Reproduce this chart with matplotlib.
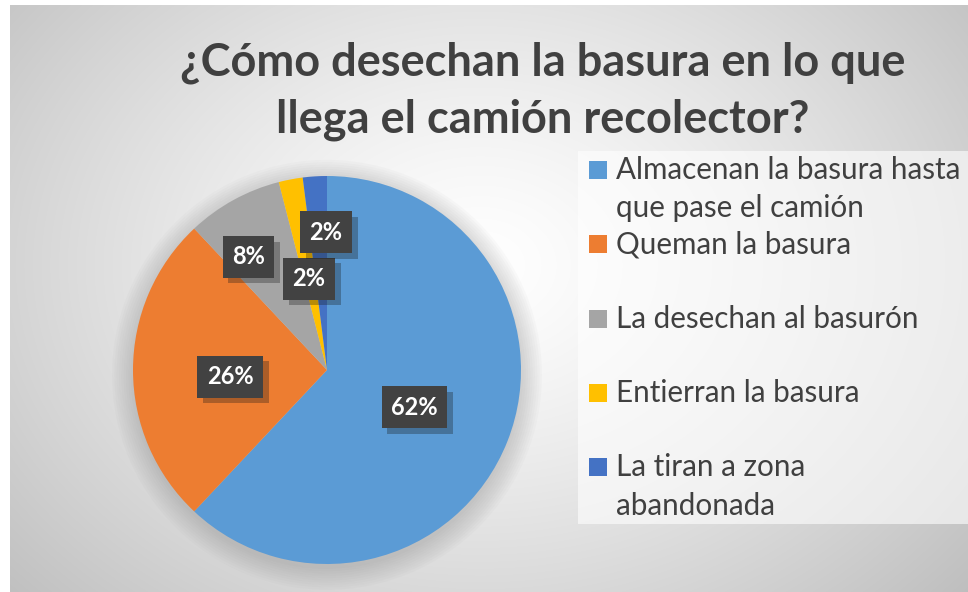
import numpy as np
import matplotlib.pyplot as plt
from matplotlib.patches import Rectangle, Circle
from matplotlib import patheffects as pe

# data
categorias = ['Almacenan la basura hasta\nque pase el camión',
              'Queman la basura',
              'La desechan al basurón',
              'Entierran la basura',
              'La tiran a zona\nabandonada']
porcentajes = [62, 26, 8, 2, 2]
colores = ['#5b9bd5', '#ed7d31', '#a5a5a5', '#ffc000', '#4472c4']
titulo = '¿Cómo desechan la basura en lo que\nllega el camión recolector?'

W, H = 968, 592
fig = plt.figure(figsize=(W / 100, H / 100), dpi=100)
fig.patch.set_facecolor('white')

# fondo con degradado radial
bg = fig.add_axes([10 / W, 0, (W - 10) / W, (H - 5) / H])
bg.set_axis_off()
yy, xx = np.mgrid[0:587, 0:958]
d = np.sqrt(((xx - 470) / 560.0) ** 2 + ((yy - 260) / 430.0) ** 2)
g = 1.0 - 0.21 * np.clip(d, 0, 1.2) ** 1.3
bg.imshow(np.dstack([g, g, g]), aspect='auto', extent=[0, 1, 0, 1])
bg.set_xlim(0, 1)
bg.set_ylim(0, 1)

# pastel
cx, cy, r = 327, 370, 194
ax = fig.add_axes([(cx - r * 1.2) / W, (H - cy - r * 1.2) / H, 2.4 * r / W, 2.4 * r / H])
ax.set_axis_off()

# sombra suave
for k in range(10):
    ax.add_patch(Circle((0.0, -0.025), 1.0 + 0.012 * k, color='#808080',
                        alpha=0.035, lw=0, zorder=0))

wedges, _ = ax.pie(porcentajes, colors=colores, startangle=90, counterclock=False,
                   radius=1.0, wedgeprops=dict(linewidth=0))
ax.set_xlim(-1.2, 1.2)
ax.set_ylim(-1.2, 1.2)
ax.set_aspect('equal')

radios = [0.49, 0.5, 0.71, 0.48, 0.71]
ajustes = [-1.5, 4, 6, 0.3, -3.2]
for w, p, rr, da in zip(wedges, porcentajes, radios, ajustes):
    ang = np.deg2rad((w.theta1 + w.theta2) / 2 + da)
    t = ax.text(rr * np.cos(ang), rr * np.sin(ang), f'{p}%', ha='center', va='center',
                color='white', fontsize=17, fontweight='bold', family='Lato', zorder=5,
                bbox=dict(boxstyle='square,pad=0.4', fc='#424242', ec='none'))
    t.get_bbox_patch().set_path_effects([pe.SimplePatchShadow(offset=(4, -4), alpha=0.3),
                                         pe.Normal()])

# título
fig.text(543 / W, 1 - 91 / H, titulo, ha='center', va='center', fontsize=32.5,
         fontweight='bold', color='#404040', family='Lato', linespacing=1.42)

# leyenda
fig.add_artist(Rectangle((578 / W, (H - 524) / H), (W - 578) / W, 373 / H,
                         transform=fig.transFigure, fc='white', alpha=0.6, ec='none'))
base0, paso, interlinea = 179, 74.3, 38.5
for i, (cat, col) in enumerate(zip(categorias, colores)):
    b = base0 + i * paso
    fig.add_artist(Rectangle((589 / W, (H - b) / H), 18 / W, 18 / H,
                             transform=fig.transFigure, fc=col, ec='none'))
    for j, linea in enumerate(cat.split('\n')):
        fig.text(616 / W, (H - b - j * interlinea) / H, linea, ha='left', va='baseline',
                 fontsize=21.3, color='#404040', family='Lato')

fig.savefig('out.png', dpi=100)
